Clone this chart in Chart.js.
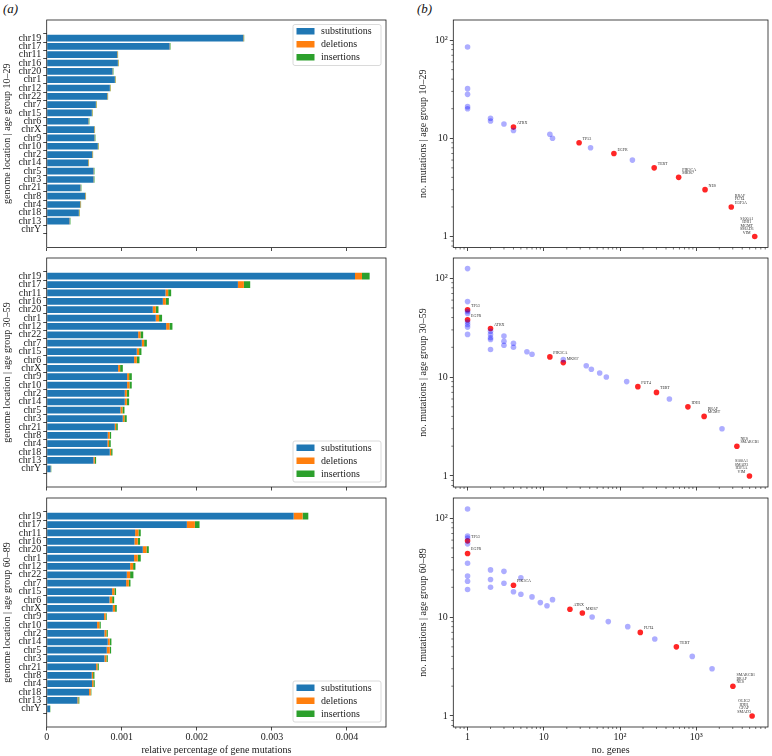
<!DOCTYPE html>
<html lang="en">
<head>
<meta charset="UTF-8">
<title>Gene mutations by age group</title>
<script src="https://cdn.jsdelivr.net/npm/chart.js@4.4.0/dist/chart.umd.min.js"></script>
<style>
    body { margin: 0; background: #fff; }
    #page { position: relative; width: 772px; height: 756px; overflow: hidden; font-family: 'Liberation Serif', serif; }
    .panel { position: absolute; }
    .tag { position: absolute; font-style: italic; font-size: 13px; line-height: 16px; color: #111; }
</style>
</head>
<body>
<div id="page">
    <div class="tag" style="left:3px;top:1px">(a)</div>
    <div class="tag" style="left:417px;top:1px">(b)</div>
</div>

<script>
    // ---- data (bar lengths in units of 10^-3) ----
    const chromosomes = ['chr19', 'chr17', 'chr11', 'chr16', 'chr20', 'chr1', 'chr12', 'chr22', 'chr7', 'chr15', 'chr6', 'chrX',
        'chr9', 'chr10', 'chr2', 'chr14', 'chr5', 'chr3', 'chr21', 'chr8', 'chr4', 'chr18', 'chr13', 'chrY'];
    const UNIT = 1e-3;

    const sub1029 = [2.619, 1.637, 0.939, 0.948, 0.877, 0.908, 0.841, 0.806, 0.655, 0.601, 0.557, 0.632,
        0.637, 0.681, 0.606, 0.552, 0.624, 0.624, 0.450, 0.512, 0.446, 0.428, 0.304, 0];
    const del1029 = [0.006, 0.006, 0.006, 0.006, 0.006, 0.006, 0.006, 0.006, 0.006, 0.006, 0.006, 0.006,
        0.006, 0.006, 0.006, 0.006, 0.006, 0.006, 0.006, 0.006, 0.006, 0.006, 0.006, 0];
    const ins1029 = [0.006, 0.006, 0.006, 0.006, 0.006, 0.006, 0.006, 0.006, 0.006, 0.006, 0.006, 0.006,
        0.006, 0.006, 0.006, 0.006, 0.006, 0.006, 0.006, 0.006, 0.006, 0.006, 0.006, 0];

    const sub3059 = [4.107, 2.547, 1.582, 1.547, 1.413, 1.453, 1.591, 1.218, 1.267, 1.200, 1.164, 0.951,
        1.071, 1.071, 1.040, 1.040, 0.982, 1.013, 0.907, 0.813, 0.809, 0.840, 0.622, 0.053];
    const del3059 = [0.093, 0.080, 0.036, 0.040, 0.040, 0.044, 0.044, 0.031, 0.031, 0.031, 0.036, 0.027,
        0.027, 0.031, 0.027, 0.027, 0.027, 0.022, 0.018, 0.027, 0.022, 0.018, 0.018, 0.004];
    const ins3059 = [0.102, 0.084, 0.040, 0.040, 0.036, 0.040, 0.040, 0.036, 0.036, 0.031, 0.036, 0.036,
        0.036, 0.031, 0.031, 0.031, 0.027, 0.031, 0.022, 0.018, 0.022, 0.018, 0.018, 0.004];

    const sub6089 = [3.289, 1.867, 1.178, 1.169, 1.280, 1.164, 1.111, 1.067, 1.058, 0.871, 0.836, 0.880,
        0.764, 0.671, 0.769, 0.813, 0.800, 0.769, 0.658, 0.600, 0.604, 0.564, 0.409, 0.044];
    const del6089 = [0.120, 0.107, 0.044, 0.044, 0.049, 0.049, 0.040, 0.044, 0.036, 0.031, 0.036, 0.031,
        0.022, 0.031, 0.027, 0.027, 0.040, 0.027, 0.018, 0.018, 0.018, 0.022, 0.013, 0];
    const ins6089 = [0.076, 0.062, 0.031, 0.031, 0.031, 0.040, 0.031, 0.044, 0.022, 0.022, 0.027, 0.022,
        0.013, 0.018, 0.018, 0.022, 0.018, 0.018, 0.018, 0.018, 0.018, 0.009, 0.013, 0.004];

    const barTickValues = [0, 0.001, 0.002, 0.003, 0.004];
    const barTickLabels = ['0', '0.001', '0.002', '0.003', '0.004'];

    // scatter: no. genes (x) vs no. mutations (y)
    const blueX1029 = [1, 1, 1, 1, 1, 2, 2, 3, 4, 12, 13, 41, 145];
    const blueY1029 = [85, 32, 28, 21, 20, 16, 15, 14, 12, 11, 10, 8, 6];
    const redX1029 = [4, 29, 83, 280, 586, 1300, 2870, 5830];
    const redY1029 = [13, 9, 7, 5, 4, 3, 2, 1];
    const genes1029 = [['ATRX'], ['TP53'], ['EGFR'], ['TERT'], ['PIK3CA', 'MKI67'], ['NES'],
        ['BRAF', 'FUT4', 'H3F3A'], ['S100A1', 'IDH1', 'MGMT', 'SMAD3', 'VIM']];

    const blueX3059 = [1, 1, 1, 1, 1, 1, 1, 1, 2, 2, 2, 2, 2, 3, 3, 3, 4, 4, 6, 7, 18, 36, 42, 54, 66, 122, 443, 2170];
    const blueY3059 = [125, 58, 46, 44, 36, 34, 32, 27, 29, 27, 25, 24, 19, 26, 23, 21, 22, 20, 18, 17, 15, 13, 12, 11, 10, 9, 6, 3];
    const redX3059 = [1, 1, 2, 12, 18, 171, 300, 775, 1265, 3400, 4970];
    const redY3059 = [48, 38, 31, 16, 14, 8, 7, 5, 4, 2, 1];
    const genes3059 = [['TP53'], ['EGFR'], ['ATRX'], ['PIK3CA'], ['MKI67'], ['FUT4'], ['TERT'], ['IDH1'],
        ['BRAF', 'MGMT'], ['NES', 'SMARCB1'], ['S100A1', 'SMAD3', 'H3F3A', 'VIM']];

    const blueX6089 = [1, 1, 1, 1, 1, 1, 1, 1, 2, 2, 2, 3, 3, 4, 5, 5, 7, 9, 11, 13, 43, 70, 126, 285, 884, 1607];
    const blueY6089 = [124, 66, 63, 55, 35, 26, 23, 19, 30, 24, 20, 29, 22, 18, 25, 17, 16, 14, 13, 15, 10, 9, 8, 6, 4, 3];
    const redX6089 = [1, 1, 4, 22, 32, 184, 547, 3015, 5385];
    const redY6089 = [59, 44, 21, 12, 11, 7, 5, 2, 1];
    const genes6089 = [['TP53'], ['EGFR'], ['PIK3CA'], ['ATRX'], ['MKI67'], ['FUT4'], ['TERT'],
        ['SMARCB1', 'BRAF', 'NES'], ['OLIG2', 'IDH1', 'GFAP', 'SMAD3']];

    const logXTicks = [1, 10, 100, 1000];
    const logXLabels = ['1', '10', '10²', '10³'];
    const logYTicks = [1, 10, 100];
    const logYLabels = ['1', '10', '10²'];

    // ---- layout ----
    const rows = [{ top: 19.5, bottom: 247 }, { top: 258, bottom: 487 }, { top: 498, bottom: 727 }];
    const C_SUB = '#1f77b4', C_DEL = '#ff7f0e', C_INS = '#2ca02c';
    const INK = '#1a1a1a';

    Chart.defaults.font.family = "'Liberation Serif', serif";
    Chart.defaults.font.size = 10;
    Chart.defaults.color = INK;
    Chart.defaults.animation = false;

    function makeBox(left, width, row, last) {
        const r = rows[row];
        const top = r.top - 19;
        const axisH = last ? 29 : 9;
        const div = document.createElement('div');
        div.className = 'panel';
        div.style.left = left + 'px';
        div.style.top = top + 'px';
        div.style.width = width + 'px';
        div.style.height = (r.bottom + axisH - top) + 'px';
        div.appendChild(document.createElement('canvas'));
        document.getElementById('page').appendChild(div);
        return { canvas: div.firstChild, axisH: axisH };
    }

    const framePlugin = {
        id: 'frame',
        afterDatasetsDraw(chart) {
            const a = chart.chartArea, ctx = chart.ctx;
            ctx.save();
            ctx.strokeStyle = INK;
            ctx.lineWidth = 0.8;
            ctx.strokeRect(a.left, a.top, a.right - a.left, a.bottom - a.top);
            ctx.restore();
        }
    };

    // matplotlib-like legend drawn inside the axes
    const boxLegend = {
        id: 'boxLegend',
        afterDraw(chart, args, opts) {
            if (!opts.where) return;
            const a = chart.chartArea, ctx = chart.ctx;
            const w = 88, h = 41;
            const x = a.right - 5 - w;
            const y = opts.where === 'top' ? a.top + 4.5 : a.bottom - 5 - h;
            ctx.save();
            ctx.fillStyle = 'rgba(255,255,255,0.85)';
            ctx.strokeStyle = '#d0d0d0';
            ctx.lineWidth = 0.8;
            ctx.beginPath();
            ctx.roundRect(x, y, w, h, 2);
            ctx.fill();
            ctx.stroke();
            ctx.font = "10px 'Liberation Serif', serif";
            ctx.textBaseline = 'middle';
            chart.data.datasets.forEach((ds, i) => {
                const cy = y + 6.7 + i * 13;
                ctx.fillStyle = ds.backgroundColor;
                ctx.fillRect(x + 3.5, cy - 3.2, 18, 6.5);
                ctx.fillStyle = INK;
                ctx.fillText(ds.label, x + 28, cy + 0.5);
            });
            ctx.restore();
        }
    };

    // short minor ticks on logarithmic axes
    const minorTicks = {
        id: 'minorTicks',
        afterDraw(chart) {
            const ctx = chart.ctx;
            ctx.save();
            ctx.strokeStyle = INK;
            ctx.lineWidth = 0.6;
            ['x', 'y'].forEach(id => {
                const s = chart.scales[id];
                if (s.type !== 'logarithmic') return;
                const d0 = Math.floor(Math.log10(s.min)), d1 = Math.ceil(Math.log10(s.max));
                for (let d = d0; d <= d1; d++) {
                    for (let k = 2; k <= 9; k++) {
                        const v = k * Math.pow(10, d);
                        if (v < s.min || v > s.max) continue;
                        const p = s.getPixelForValue(v);
                        ctx.beginPath();
                        if (id === 'x') { ctx.moveTo(p, s.top); ctx.lineTo(p, s.top + 2); }
                        else { ctx.moveTo(s.right, p); ctx.lineTo(s.right - 2, p); }
                        ctx.stroke();
                    }
                }
            });
            ctx.restore();
        }
    };

    // gene names next to the red points
    const geneLabels = {
        id: 'geneLabels',
        afterDatasetsDraw(chart, args, opts) {
            if (!opts.labels) return;
            const ctx = chart.ctx;
            const pts = chart.getDatasetMeta(1).data;
            ctx.save();
            ctx.font = "4px 'Liberation Serif', serif";
            ctx.fillStyle = '#333';
            ctx.textBaseline = 'middle';
            opts.labels.forEach((lines, i) => {
                const p = pts[i];
                const n = lines.length;
                lines.forEach((t, j) => {
                    const ly = p.y - 4 - (n - 1 - j) * 3.5;
                    if (n >= 4) { ctx.textAlign = 'center'; ctx.fillText(t, p.x - 8, ly); }
                    else { ctx.textAlign = 'left'; ctx.fillText(t, p.x + 3.5, ly); }
                });
            });
            ctx.restore();
        }
    };

    function tickStyle() {
        return { drawOnChartArea: false, drawTicks: true, tickLength: 3.5, tickColor: INK, tickWidth: 0.8 };
    }

    function barChart(row, age, sub, del, ins, legendAt) {
        const last = row === 2;
        const box = makeBox(0, 390, row, last);
        const toBars = arr => arr.map((v, i) => ({ x: v * UNIT, y: i }));
        new Chart(box.canvas, {
            type: 'bar',
            data: {
                datasets: [
                    { label: 'substitutions', data: toBars(sub), backgroundColor: C_SUB },
                    { label: 'deletions', data: toBars(del), backgroundColor: C_DEL },
                    { label: 'insertions', data: toBars(ins), backgroundColor: C_INS }
                ]
            },
            options: {
                indexAxis: 'y',
                responsive: true,
                maintainAspectRatio: false,
                layout: { padding: { top: 19, right: 4, left: 0, bottom: 0 } },
                categoryPercentage: 1,
                barPercentage: 0.8,
                scales: {
                    x: {
                        type: 'linear', stacked: true, min: 0, max: 0.00452,
                        grid: tickStyle(), border: { display: false },
                        afterBuildTicks: s => { s.ticks = barTickValues.map(v => ({ value: v })); },
                        afterFit: s => { s.height = box.axisH; },
                        ticks: {
                            display: last, padding: 1, maxRotation: 0, autoSkip: false,
                            callback: (v, i) => barTickLabels[i]
                        },
                        title: { display: last, text: 'relative percentage of gene mutations', padding: { top: 0, bottom: 0 } }
                    },
                    y: {
                        type: 'linear', stacked: true, reverse: true, min: -1.6, max: 24.6,
                        grid: tickStyle(), border: { display: false },
                        afterBuildTicks: s => { s.ticks = chromosomes.map((c, i) => ({ value: i })); },
                        afterFit: s => { s.width = 46.7; },
                        ticks: { padding: 2, autoSkip: false, callback: v => chromosomes[v] },
                        title: { display: true, text: 'genome location | age group ' + age, padding: { top: 1, bottom: 0 } }
                    }
                },
                plugins: {
                    legend: { display: false },
                    tooltip: { enabled: false },
                    boxLegend: { where: legendAt }
                }
            },
            plugins: [framePlugin, boxLegend]
        });
    }

    function scatterChart(row, age, bx, by, rx, ry, genes) {
        const last = row === 2;
        const box = makeBox(390, 382, row, last);
        const pts = (xs, ys) => xs.map((x, i) => ({ x: x, y: ys[i] }));
        new Chart(box.canvas, {
            type: 'scatter',
            data: {
                datasets: [
                    { data: pts(bx, by), backgroundColor: 'rgba(0,0,255,0.32)', borderWidth: 0, pointRadius: 2.8 },
                    { data: pts(rx, ry), backgroundColor: 'rgba(255,0,0,0.85)', borderWidth: 0, pointRadius: 2.8 }
                ]
            },
            options: {
                responsive: true,
                maintainAspectRatio: false,
                layout: { padding: { top: 19, right: 1, left: 0, bottom: 0 } },
                scales: {
                    x: {
                        type: 'logarithmic', min: 0.65, max: 8700,
                        grid: tickStyle(), border: { display: false },
                        afterBuildTicks: s => { s.ticks = logXTicks.map(v => ({ value: v })); },
                        afterFit: s => { s.height = box.axisH; },
                        ticks: { display: last, padding: 1, maxRotation: 0, autoSkip: false, callback: (v, i) => logXLabels[i] },
                        title: { display: last, text: 'no. genes', padding: { top: 0, bottom: 0 } }
                    },
                    y: {
                        type: 'logarithmic', min: 0.773, max: 160,
                        grid: tickStyle(), border: { display: false },
                        afterBuildTicks: s => { s.ticks = logYTicks.map(v => ({ value: v })); },
                        afterFit: s => { s.width = 63.3; },
                        ticks: { padding: 2, autoSkip: false, callback: (v, i) => logYLabels[i] },
                        title: { display: true, text: 'no. mutations | age group ' + age, padding: { top: 27, bottom: 0 } }
                    }
                },
                plugins: {
                    legend: { display: false },
                    tooltip: { enabled: false },
                    geneLabels: { labels: genes }
                }
            },
            plugins: [framePlugin, minorTicks, geneLabels]
        });
    }

    barChart(0, '10–29', sub1029, del1029, ins1029, 'top');
    barChart(1, '30–59', sub3059, del3059, ins3059, 'bottom');
    barChart(2, '60–89', sub6089, del6089, ins6089, 'bottom');

    scatterChart(0, '10–29', blueX1029, blueY1029, redX1029, redY1029, genes1029);
    scatterChart(1, '30–59', blueX3059, blueY3059, redX3059, redY3059, genes3059);
    scatterChart(2, '60–89', blueX6089, blueY6089, redX6089, redY6089, genes6089);
</script>
</body>
</html>
